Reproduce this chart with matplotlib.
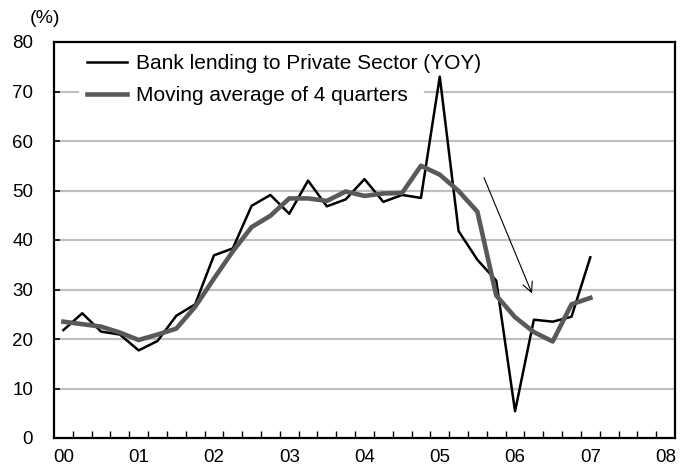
import numpy as np
import matplotlib.pyplot as plt
from matplotlib.ticker import FixedLocator

plt.rcParams['font.family'] = ['Liberation Sans', 'DejaVu Sans']

# quarterly data, 2000Q1 .. 2007Q1
lending = [21.8, 25.2, 21.5, 20.9, 17.7, 19.6, 24.7, 27.0, 36.9, 38.3,
           46.9, 49.1, 45.3, 52.0, 46.8, 48.2, 52.3, 47.7, 49.1, 48.5,
           73.0, 41.8, 36.0, 31.8, 5.4, 23.9, 23.5, 24.5, 36.5]
mov_avg = [23.5, 23.0, 22.5, 21.3, 19.8, 20.9, 22.1, 26.5, 32.2, 37.7,
           42.6, 44.9, 48.4, 48.4, 47.9, 49.8, 48.9, 49.4, 49.5, 55.0,
           53.2, 49.9, 45.7, 28.8, 24.4, 21.4, 19.5, 27.0, 28.3]
year_labels = ['00', '01', '02', '03', '04', '05', '06', '07', '08']
n_cat = 33  # 2000Q1 .. 2008Q1

x = np.arange(len(lending))

fig = plt.figure(figsize=(6.89, 4.71), dpi=100)
ax = fig.add_axes([54 / 689, 1 - 438 / 471, 621 / 689, 396 / 471])

# gridlines (the 70 line is hidden behind the legend box)
for v in range(10, 70, 10):
    ax.axhline(v, color='#c0c0c0', lw=1.6, zorder=0)
ax.axhline(70, xmin=0, xmax=24 / 621, color='#c0c0c0', lw=1.6, zorder=0)
ax.axhline(70, xmin=371 / 621, xmax=1, color='#c0c0c0', lw=1.6, zorder=0)

ax.plot(x, lending, color='black', lw=1.8, label='Bank lending to Private Sector (YOY)', zorder=3)
ax.plot(x, mov_avg, color='#595959', lw=3.3, label='Moving average of 4 quarters', zorder=4)

# arrow
ax.annotate('', xy=(24.9, 29.2), xytext=(22.35, 52.6),
            arrowprops=dict(arrowstyle='->', color='black', lw=0.8,
                            mutation_scale=18, shrinkA=0, shrinkB=0), zorder=5)

ax.set_xlim(-0.5, n_cat - 0.5)
ax.set_ylim(0, 80)

ax.set_yticks(range(0, 81, 10))
ax.set_xticks(np.arange(0, n_cat, 4))
ax.set_xticklabels(year_labels)
ax.xaxis.set_minor_locator(FixedLocator(np.arange(0.5, n_cat - 1, 1)))

ax.tick_params(axis='y', direction='in', length=4, width=1.2, labelsize=13.5, pad=15)
ax.tick_params(axis='x', which='major', length=0, labelsize=13.5, pad=8)
ax.tick_params(axis='x', which='minor', direction='in', length=5, width=1)

for s in ax.spines.values():
    s.set_linewidth(1.6)
    s.set_color('black')

ax.text(-0.015, 1.06, '(%)', transform=ax.transAxes, fontsize=14,
        ha='center', va='center')

leg = ax.legend(loc='upper left', bbox_to_anchor=(0.04, 0.99), borderaxespad=0,
                frameon=False, fontsize=15, handlelength=1.9,
                handletextpad=0.42, labelspacing=0.62, borderpad=0.4)
leg.set_zorder(2)

fig.savefig('out.png', dpi=100)
